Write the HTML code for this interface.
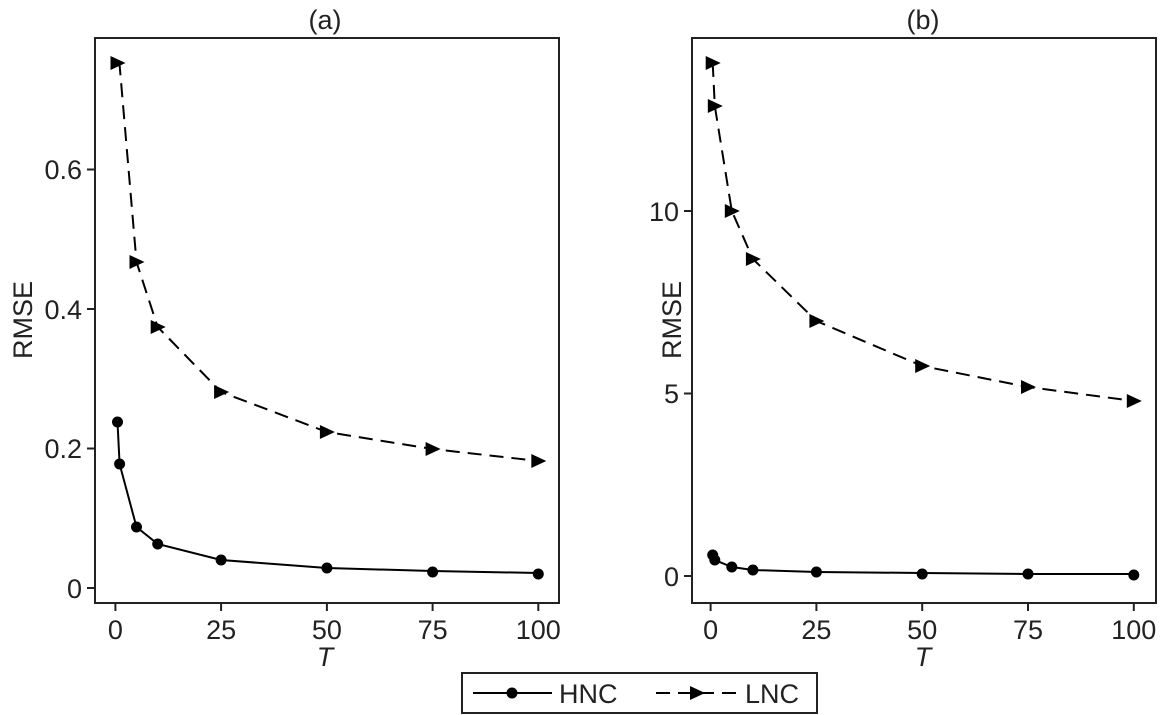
<!DOCTYPE html>
<html><head><style>body{margin:0;background:#fff}svg{display:block}text{font-family:"Liberation Sans",sans-serif;fill:#222}</style></head>
<body>
<svg width="1160" height="715" viewBox="0 0 1160 715">
<defs>
<path id="tri" d="M-7,-7 L8,0 L-7,7 Z" fill="#000"/>
<circle id="dot" r="5.5" fill="#000"/>
</defs>
<g stroke="#222" stroke-width="2" fill="none">
<rect x="95" y="38" width="464" height="565"/>
<rect x="692" y="38" width="464" height="565"/>
<path d="M87,588H95M87,448.5H95M87,309H95M87,169.5H95"/>
<path d="M115.4,603V611M221.1,603V611M326.9,603V611M432.6,603V611M538.3,603V611"/>
<path d="M684,576H692M684,393.5H692M684,211H692"/>
<path d="M710.6,603V611M816.4,603V611M922.2,603V611M1028,603V611M1133.8,603V611"/>
</g>
<g font-size="27" text-anchor="end">
<text x="82" y="598">0</text><text x="82" y="458">0.2</text><text x="82" y="319">0.4</text><text x="82" y="179">0.6</text>
<text x="679" y="586">0</text><text x="679" y="403">5</text><text x="679" y="221">10</text>
</g>
<g font-size="27" text-anchor="middle">
<text x="115.4" y="639">0</text><text x="221.1" y="639">25</text><text x="326.9" y="639">50</text><text x="432.6" y="639">75</text><text x="538.3" y="639">100</text>
<text x="710.6" y="639">0</text><text x="816.4" y="639">25</text><text x="922.2" y="639">50</text><text x="1028" y="639">75</text><text x="1133.8" y="639">100</text>
<text x="325" y="29">(a)</text><text x="923" y="29">(b)</text>
<text x="325" y="666" font-style="italic">T</text><text x="923" y="666" font-style="italic">T</text>
<text transform="translate(32,320) rotate(-90)">RMSE</text>
<text transform="translate(681,320) rotate(-90)">RMSE</text>
</g>
<!-- panel a -->
<g stroke="#000" stroke-width="2" fill="none">
<polyline points="117.5,422 119.6,464 136.5,527 157.7,544 221.1,560 326.9,568 432.6,571 538.3,573"/>
<polyline stroke-dasharray="14,8" points="117.5,62 119.6,65 136.5,262 157.7,327 221.1,392 326.9,432 432.6,449 538.3,461"/>
</g>
<g>
<use href="#dot" x="117.5" y="422"/><use href="#dot" x="119.6" y="464"/><use href="#dot" x="136.5" y="527"/><use href="#dot" x="157.7" y="544"/><use href="#dot" x="221.1" y="560"/><use href="#dot" x="326.9" y="568"/><use href="#dot" x="432.6" y="572"/><use href="#dot" x="538.3" y="574"/>
<use href="#tri" x="117.5" y="63"/><use href="#tri" x="136.5" y="262"/><use href="#tri" x="157.7" y="327"/><use href="#tri" x="221.1" y="392"/><use href="#tri" x="326.9" y="432"/><use href="#tri" x="432.6" y="449"/><use href="#tri" x="538.3" y="461"/>
</g>
<!-- panel b -->
<g stroke="#000" stroke-width="2" fill="none">
<polyline points="712.7,554 714.8,560 731.8,567 752.9,570 816.4,572 922.2,573 1028,574 1133.8,574"/>
<polyline stroke-dasharray="14,8" points="712.7,63 714.8,106 731.8,211 752.9,259 816.4,321 922.2,366 1028,387 1133.8,401"/>
</g>
<g>
<use href="#dot" x="712.7" y="555"/><use href="#dot" x="714.8" y="560"/><use href="#dot" x="731.8" y="567"/><use href="#dot" x="752.9" y="570"/><use href="#dot" x="816.4" y="572"/><use href="#dot" x="922.2" y="574"/><use href="#dot" x="1028" y="574"/><use href="#dot" x="1133.8" y="575"/>
<use href="#tri" x="712.7" y="63"/><use href="#tri" x="714.8" y="106"/><use href="#tri" x="731.8" y="211"/><use href="#tri" x="752.9" y="259"/><use href="#tri" x="816.4" y="321"/><use href="#tri" x="922.2" y="366"/><use href="#tri" x="1028" y="387"/><use href="#tri" x="1133.8" y="401"/>
</g>
<!-- legend -->
<rect x="462" y="673" width="355" height="40" fill="#fff" stroke="#222" stroke-width="2"/>
<line x1="473" y1="693" x2="552" y2="693" stroke="#000" stroke-width="2"/>
<use href="#dot" x="512" y="693"/>
<text x="559" y="703" font-size="27">HNC</text>
<line x1="656" y1="693" x2="740" y2="693" stroke="#000" stroke-width="2" stroke-dasharray="14,8"/>
<use href="#tri" x="697" y="693"/>
<text x="745" y="703" font-size="27">LNC</text>
</svg>
</body></html>
